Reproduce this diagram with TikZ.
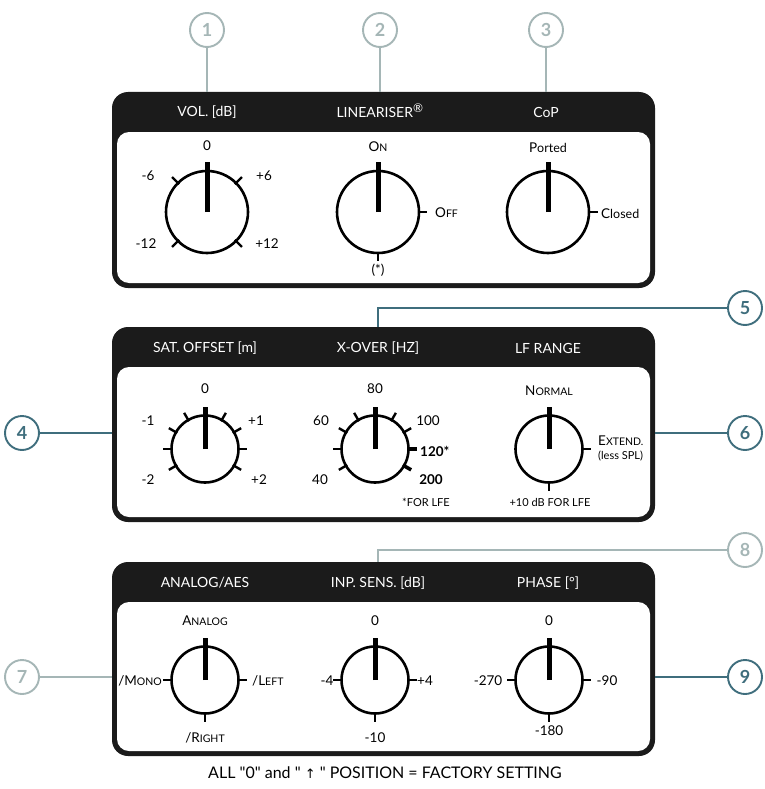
\documentclass[tikz,border=0pt]{standalone}
\usepackage{fontspec}
\setmainfont{Lato}[Ligatures=TeXOff]
\newfontfamily\djv{DejaVu Sans}
\usetikzlibrary{calc}
\definecolor{tealc}{HTML}{3F6E7D}
\definecolor{greyc}{HTML}{A5B6B6}
\definecolor{hdr}{HTML}{1B1B1B}
\newcommand\mysc[2]{#1{\fontsize{10.5}{10.5}\selectfont #2}}
\begin{document}
\begin{tikzpicture}[x=1pt,y=-1pt,
  callout/.style={circle, draw, line width=1.9pt, minimum size=34pt, inner sep=0pt, font=\fontsize{18}{18}\selectfont\bfseries},
  cline/.style={line width=2pt},
  lbl/.style={font=\fontsize{13.5}{13.5}\selectfont, inner sep=0pt},
  blbl/.style={font=\fontsize{13.5}{13.5}\selectfont\bfseries, inner sep=0pt},
  hlbl/.style={font=\fontsize{14}{14}\selectfont, text=white, inner sep=0pt},
  small/.style={font=\fontsize{11}{11}\selectfont, inner sep=0pt},
  knobL/.style={circle, draw, line width=2.6pt, minimum size=82pt, inner sep=0pt},
  knobS/.style={circle, draw, line width=2.6pt, minimum size=67pt, inner sep=0pt},
  ptr/.style={line width=5pt},
  tick/.style={line width=2.4pt},
  btick/.style={line width=3.6pt},
  panelout/.style={fill=hdr, rounded corners=16pt},
  panelin/.style={fill=white, rounded corners=12pt}]
\useasboundingbox (0,0) rectangle (764,789);
\fill[white] (0,0) rectangle (764,789);

% ---------- panels ----------
\fill[panelout] (112,92) rectangle (655,288);
\fill[panelin] (117,132) rectangle (650,283);
\fill[panelout] (112,327) rectangle (655,522);
\fill[panelin] (117,367) rectangle (650,517);
\fill[panelout] (112,562) rectangle (655,756);
\fill[panelin] (117,602) rectangle (650,751);

% header labels
\node[hlbl] (h1) at (207,112) {VOL. [dB]};
\node[hlbl] (h2) at (380,111) {LINEARISER\textsuperscript{\fontsize{12}{12}\selectfont ®}};
\node[hlbl] (h3) at (546,112) {CoP};
\node[hlbl] (h4) at (205,348) {SAT. OFFSET [m]};
\node[hlbl] (h5) at (378,348) {X-OVER [HZ]};
\node[hlbl] (h6) at (548,348) {LF RANGE};
\node[hlbl] (h7) at (205,583) {ANALOG/AES};
\node[hlbl] (h8) at (378,583) {INP. SENS. [dB]};
\node[hlbl] (h9) at (548,583) {PHASE [°]};

% ---------- panel 1 knobs ----------
\node[knobL] (k1) at (207,212) {};
\draw[ptr] (k1.center) -- ($(k1.center)!1.19!(k1.90)$);
\foreach \a in {45,135,225,315} \draw[tick] ($(k1.center)!0.93!(k1.\a)$) -- ($(k1.center)!1.17!(k1.\a)$);
\node[lbl] (l10) at (207,146) {0};
\node[lbl] (l1a) at (148,176) {-6};
\node[lbl] (l1b) at (264,176) {+6};
\node[lbl] (l1c) at (146,244) {-12};
\node[lbl] (l1d) at (267,244) {+12};

\node[knobL] (k2) at (378,212) {};
\draw[ptr] (k2.center) -- ($(k2.center)!1.19!(k2.90)$);
\foreach \a in {0,270} \draw[tick] (k2.\a) -- ($(k2.center)!1.17!(k2.\a)$);
\node[lbl] (l2a) at (378,147) {\mysc{O}{N}};
\node[lbl, anchor=west] (l2b) at (435,213) {\mysc{O}{FF}};
\node[lbl] (l2c) at (378,270) {(*)};

\node[knobL] (k3) at (548,212) {};
\draw[ptr] (k3.center) -- ($(k3.center)!1.19!(k3.90)$);
\draw[tick] (k3.0) -- ($(k3.center)!1.17!(k3.0)$);
\node[lbl] (l3a) at (548,148) {P{\fontsize{12.5}{12.5}\selectfont orted}};
\node[lbl, anchor=west] (l3b) at (601,214) {C{\fontsize{12.5}{12.5}\selectfont losed}};

% ---------- panel 2 knobs ----------
\node[knobS] (k4) at (205,449) {};
\draw[ptr] (k4.center) -- ($(k4.center)!1.2!(k4.90)$);
\foreach \a in {0,30,60,120,150,180,210,330} \draw[tick] ($(k4.center)!0.92!(k4.\a)$) -- ($(k4.center)!1.2!(k4.\a)$);
\node[lbl] (l40) at (205,389) {0};
\node[lbl] (l4a) at (148,421) {-1};
\node[lbl] (l4b) at (256,421) {+1};
\node[lbl] (l4c) at (148,480) {-2};
\node[lbl] (l4d) at (259,480) {+2};

\node[knobS] (k5) at (375,449) {};
\draw[ptr] (k5.center) -- ($(k5.center)!1.2!(k5.90)$);
\foreach \a in {30,60,120,150,180,210} \draw[tick] ($(k5.center)!0.92!(k5.\a)$) -- ($(k5.center)!1.2!(k5.\a)$);
\foreach \a in {0,330} \draw[btick] ($(k5.center)!0.92!(k5.\a)$) -- ($(k5.center)!1.2!(k5.\a)$);
\node[lbl] (l50) at (375,389) {80};
\node[lbl] (l5a) at (321,421) {60};
\node[lbl] (l5b) at (428,421) {100};
\node[blbl, anchor=west] (l5c) at (420,451) {120*};
\node[lbl] (l5d) at (320,480) {40};
\node[blbl] (l5e) at (431,480) {200};
\node[small] (l5f) at (426,502) {*FOR LFE};

\node[knobS] (k6) at (549,449) {};
\draw[ptr] (k6.center) -- ($(k6.center)!1.2!(k6.90)$);
\foreach \a in {0,270} \draw[tick] (k6.\a) -- ($(k6.center)!1.2!(k6.\a)$);
\node[lbl] (l6a) at (549,391) {\mysc{N}{ORMAL}};
\node[lbl, anchor=west] (l6b) at (598,441) {\mysc{E}{XTEND.}};
\node[small, anchor=west] (l6c) at (598,456) {(less SPL)};
\node[small] (l6d) at (550,502) {+10 dB FOR LFE};

% ---------- panel 3 knobs ----------
\node[knobS] (k7) at (205,680) {};
\draw[ptr] (k7.center) -- ($(k7.center)!1.2!(k7.90)$);
\foreach \a in {0,180,270} \draw[tick] (k7.\a) -- ($(k7.center)!1.2!(k7.\a)$);
\node[lbl] (l7a) at (205,621) {\mysc{A}{NALOG}};
\node[lbl, anchor=east] (l7b) at (162,681) {\mysc{/M}{ONO}};
\node[lbl, anchor=west] (l7c) at (252,681) {\mysc{/L}{EFT}};
\node[lbl] (l7d) at (205,738) {\mysc{/R}{IGHT}};

\node[knobS] (k8) at (375,680) {};
\draw[ptr] (k8.center) -- ($(k8.center)!1.2!(k8.90)$);
\foreach \a in {0,180,270} \draw[tick] (k8.\a) -- ($(k8.center)!1.2!(k8.\a)$);
\node[lbl] (l80) at (375,621) {0};
\node[lbl] (l8a) at (327,681) {-4};
\node[lbl] (l8b) at (425,681) {+4};
\node[lbl] (l8c) at (375,738) {-10};

\node[knobS] (k9) at (549,680) {};
\draw[ptr] (k9.center) -- ($(k9.center)!1.2!(k9.90)$);
\foreach \a in {0,180,270} \draw[tick] (k9.\a) -- ($(k9.center)!1.2!(k9.\a)$);
\node[lbl] (l90) at (549,621) {0};
\node[lbl] (l9a) at (488,681) {-270};
\node[lbl] (l9b) at (607,681) {-90};
\node[lbl] (l9c) at (549,731) {-180};

% ---------- footer ----------
\node[font=\fontsize{16}{16}\selectfont, inner sep=0pt] (foot) at (385,773) {ALL "0" and " {\djv\fontsize{13}{13}\selectfont ↑} " POSITION = FACTORY SETTING};

% ---------- callouts ----------
\node[callout, draw=greyc, text=greyc] (c1) at (207,30) {1};
\node[callout, draw=greyc, text=greyc] (c2) at (380,30) {2};
\node[callout, draw=greyc, text=greyc] (c3) at (546,30) {3};
\node[callout, draw=tealc, text=tealc] (c4) at (22,433) {4};
\node[callout, draw=tealc, text=tealc] (c5) at (745,308) {5};
\node[callout, draw=tealc, text=tealc] (c6) at (745,433) {6};
\node[callout, draw=greyc, text=greyc] (c7) at (22,677) {7};
\node[callout, draw=greyc, text=greyc] (c8) at (745,550) {8};
\node[callout, draw=tealc, text=tealc] (c9) at (745,677) {9};

\coordinate (p1) at (207,92);
\coordinate (p2) at (380,92);
\coordinate (p3) at (546,92);
\coordinate (p4) at (112,433);
\coordinate (p5) at (378,327);
\coordinate (p6) at (655,433);
\coordinate (p7) at (112,677);
\coordinate (p8) at (378,562);
\coordinate (p9) at (655,677);

\draw[cline, greyc] (c1) -- (p1);
\draw[cline, greyc] (c2) -- (p2);
\draw[cline, greyc] (c3) -- (p3);
\draw[cline, tealc] (c4) -- (p4);
\draw[cline, tealc] (c5) -| (p5);
\draw[cline, tealc] (c6) -- (p6);
\draw[cline, greyc] (c7) -- (p7);
\draw[cline, greyc] (c8) -| (p8);
\draw[cline, tealc] (c9) -- (p9);
\end{tikzpicture}
\end{document}
